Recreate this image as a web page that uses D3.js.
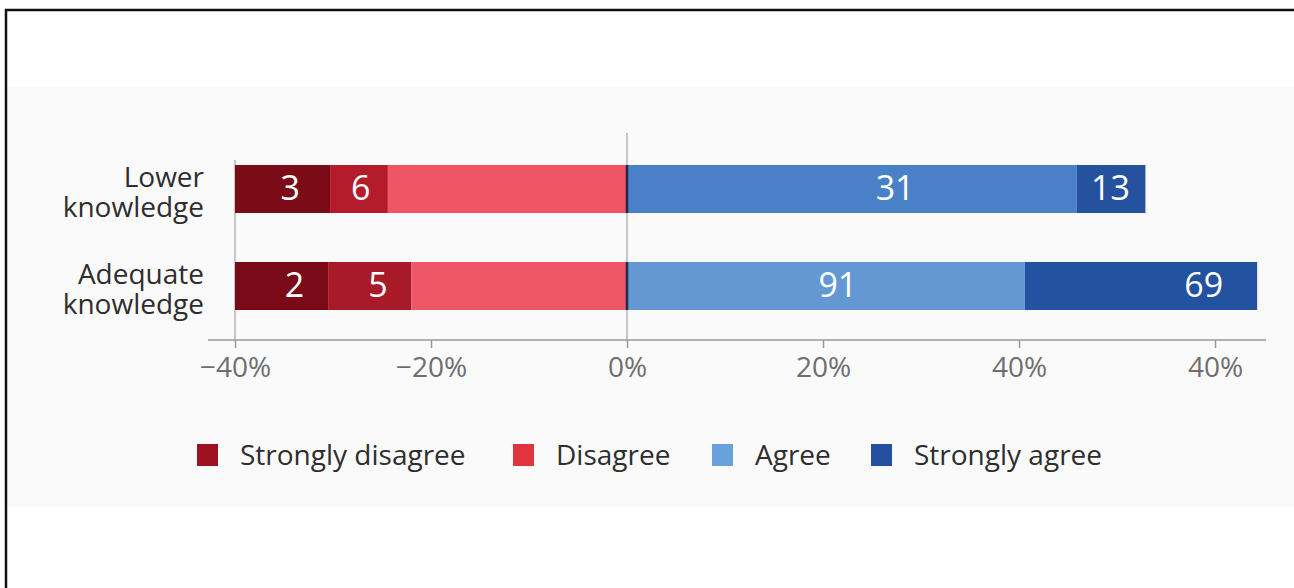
<!DOCTYPE html>
<html>
<head>
<meta charset="utf-8">
<script src="https://cdn.jsdelivr.net/npm/d3@7/dist/d3.min.js"></script>
<style>
  html, body { margin: 0; padding: 0; background: #ffffff; }
  svg { display: block; }
  text { font-family: "Open Sans", "Noto Sans", sans-serif; }
</style>
</head>
<body>
<svg id="chart" width="1294" height="588"></svg>
<script>
// ---- data ----
const categories = ["Lower knowledge", "Adequate knowledge"];
const categoryLines = [["Lower", "knowledge"], ["Adequate", "knowledge"]];
// negative side widths (percent), from -40 towards 0: strongly disagree, disagree, disagree (rest)
const stronglyDisagree = [9.7, 9.5];
const disagree = [5.9, 8.5];
const disagreeRest = [24.4, 22.0];
// positive side widths (percent)
const agree = [45.9, 40.6];
const stronglyAgree = [7.0, 23.7];
// numbers printed in the segments
const labelsStronglyDisagree = ["3", "2"];
const labelsDisagree = ["6", "5"];
const labelsAgree = ["31", "91"];
const labelsStronglyAgree = ["13", "69"];
// axis
const tickValues = [-40, -20, 0, 20, 40, 60];
const tickLabels = ["\u221240%", "\u221220%", "0%", "20%", "40%", "40%"];
const legendItems = ["Strongly disagree", "Disagree", "Agree", "Strongly agree"];

// ---- styles ----
const rowColors = [
  ["#7c0b18", "#b41c2c", "#ef5564", "#4a80c8", "#24529f"],
  ["#7a0a17", "#a91a29", "#ef5766", "#6398d3", "#2352a0"]
];
const legendColors = ["#9e1120", "#e0343f", "#69a1dc", "#24509f"];

const svg = d3.select("#chart");

// frame & background panel
svg.append("rect").attr("x", 6).attr("y", 87).attr("width", 1288).attr("height", 420).attr("fill", "#fafafb");
svg.append("line").attr("x1", 5).attr("x2", 1294).attr("y1", 10).attr("y2", 10).attr("stroke", "#111").attr("stroke-width", 2.5);
svg.append("line").attr("x1", 6).attr("x2", 6).attr("y1", 9).attr("y2", 588).attr("stroke", "#111").attr("stroke-width", 2.5);

const x = d3.scaleLinear().domain([0, 20]).range([627, 823]);
const y = d3.scaleBand().domain(categories).range([140.5, 334.5]).paddingInner(0.505).paddingOuter(0.2525);

// gridlines at -40 and 0
svg.append("line").attr("x1", x(-40)).attr("x2", x(-40)).attr("y1", 160).attr("y2", 340).attr("stroke", "#b5b5b8").attr("stroke-width", 1.5);
svg.append("line").attr("x1", x(0)).attr("x2", x(0)).attr("y1", 133).attr("y2", 340).attr("stroke", "#b5b5b8").attr("stroke-width", 1.5);

// build segments
const segs = [];
categories.forEach((c, i) => {
  const negs = [stronglyDisagree[i], disagree[i], disagreeRest[i]];
  const total = negs.reduce((a, b) => a + b, 0);
  let start = -total;
  const negLabels = [labelsStronglyDisagree[i], labelsDisagree[i], ""];
  negs.forEach((w, k) => {
    segs.push({ cat: c, row: i, k, x0: start, x1: start + w, label: negLabels[k] });
    start += w;
  });
  let pos = 0;
  [agree[i], stronglyAgree[i]].forEach((w, k) => {
    segs.push({ cat: c, row: i, k: k + 3, x0: pos, x1: pos + w, label: [labelsAgree[i], labelsStronglyAgree[i]][k] });
    pos += w;
  });
});

svg.append("g").selectAll("rect").data(segs).join("rect")
  .attr("x", d => x(d.x0))
  .attr("width", d => x(d.x1) - x(d.x0))
  .attr("y", d => y(d.cat))
  .attr("height", y.bandwidth())
  .attr("fill", d => rowColors[d.row][d.k]);

// dark line at zero on each bar
svg.append("g").selectAll("line").data(categories).join("line")
  .attr("x1", x(0)).attr("x2", x(0))
  .attr("y1", d => y(d)).attr("y2", d => y(d) + y.bandwidth())
  .attr("stroke", "#1f2a4a").attr("stroke-width", 2.5);

// label placement (fraction across segment)
const labelPlace = {
  "0-0": 0.58, "0-1": 0.53, "0-3": 0.596, "0-4": 0.49,
  "1-0": 0.64, "1-1": 0.6, "1-3": 0.53, "1-4": 0.77
};
svg.append("g").selectAll("text").data(segs.filter(d => d.label)).join("text")
  .attr("x", d => { const f = labelPlace[d.row + "-" + d.k] ?? 0.5; return x(d.x0) + f * (x(d.x1) - x(d.x0)); })
  .attr("y", d => y(d.cat) + y.bandwidth() / 2)
  .attr("dy", "0.33em")
  .attr("text-anchor", "middle")
  .attr("fill", "#ffffff")
  .attr("font-size", 34)
  .text(d => d.label);

// category labels (two-line)
const catG = svg.append("g");
categories.forEach((c, i) => {
  const cy = y(c) + y.bandwidth() / 2;
  const t = catG.append("text")
    .attr("text-anchor", "end")
    .attr("fill", "#2e2e2e")
    .attr("font-size", 28);
  categoryLines[i].forEach((ln, j) => {
    t.append("tspan").attr("x", 204).attr("y", cy - 2 + j * 30).text(ln);
  });
});

// axis
const axis = d3.axisBottom(x).tickValues(tickValues).tickSize(8).tickFormat((d, i) => tickLabels[i]);
const ax = svg.append("g").attr("transform", "translate(0,340)").call(axis);
ax.select(".domain").remove();
ax.append("line").attr("x1", 208).attr("x2", 1266).attr("y1", 0).attr("y2", 0).attr("stroke", "#999").attr("stroke-width", 1.5);
ax.selectAll(".tick line").attr("stroke", "#999").attr("stroke-width", 1.5);
ax.selectAll(".tick text").attr("fill", "#6e6e6e").attr("font-size", 28).attr("font-family", "'Open Sans', sans-serif").attr("y", 17);

// legend
const legendX = [197, 513, 712, 871];
const lg = svg.append("g");
legendItems.forEach((name, i) => {
  lg.append("rect").attr("x", legendX[i]).attr("y", 444).attr("width", 21).attr("height", 22).attr("fill", legendColors[i]);
  lg.append("text").attr("x", legendX[i] + 43).attr("y", 455).attr("dy", "0.35em")
    .attr("fill", "#2e2e2e").attr("font-size", 28).text(name);
});
</script>
</body>
</html>
